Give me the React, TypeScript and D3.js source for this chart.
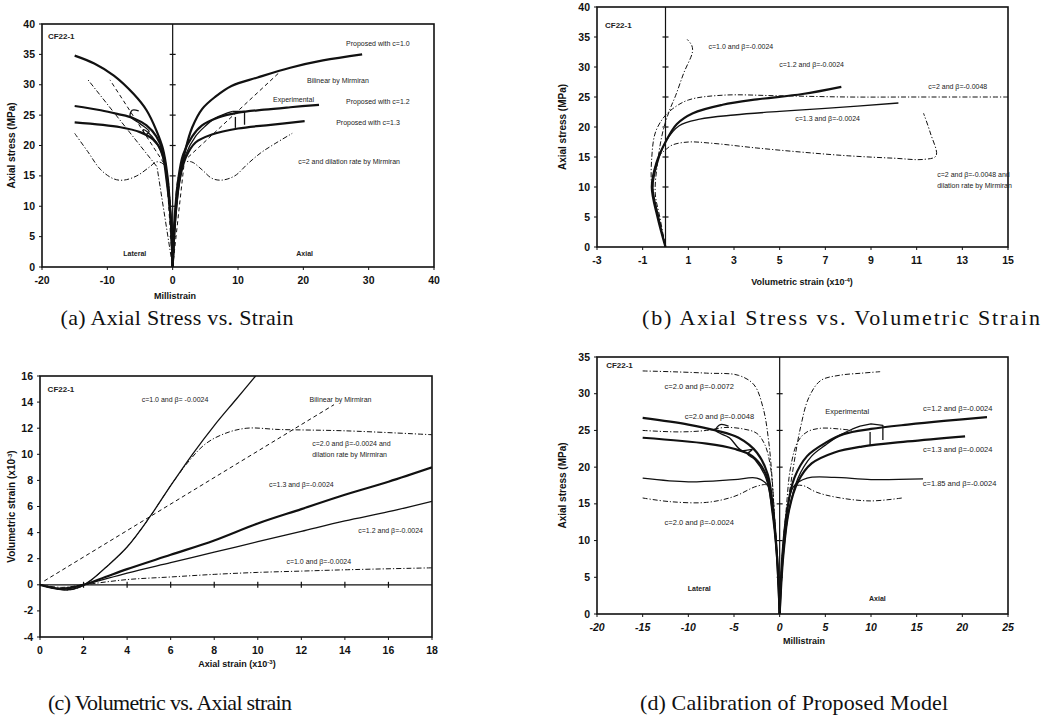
import React from 'react';
import * as d3 from 'd3';

type Pt = [number, number];

// ---------- (a) Axial stress vs. strain ----------
const aC10Lat: Pt[] = [[-15, 34.8], [-12, 33.5], [-9, 31.5], [-6, 28.5], [-4, 25.8], [-2.5, 22.5], [-1.5, 19.5], [-0.8, 15], [-0.3, 8], [0, 0]];
const aC10Ax: Pt[] = [[0, 0], [0.4, 8], [1, 14], [2, 19.5], [3, 23], [4.5, 26], [6.5, 28], [9, 29.8], [13, 31.2], [18, 32.8], [23, 34], [29, 35]];
const aC12Lat: Pt[] = [[-15, 26.5], [-11, 25.8], [-8.5, 25.2], [-6, 24.5], [-4, 23.3], [-2.5, 21.5], [-1.5, 19], [-0.8, 14], [-0.3, 8], [0, 0]];
const aC12Ax: Pt[] = [[0, 0], [0.3, 8], [0.8, 14], [1.6, 18.5], [3, 21.5], [4.5, 23.3], [7, 24.6], [10, 25.4], [14, 25.9], [18, 26.3], [22.4, 26.7]];
const aC13Lat: Pt[] = [[-15, 23.8], [-8, 23], [-5, 22.2], [-3, 21], [-1.7, 19], [-0.9, 14], [-0.3, 8], [0, 0]];
const aC13Ax: Pt[] = [[0, 0], [0.4, 8], [1, 14], [2, 18], [3.5, 20.5], [6, 21.8], [10, 22.8], [15, 23.4], [20.2, 24]];
const aExpLat: Pt[] = [[0, 0], [-0.3, 8], [-0.8, 14], [-1.5, 18], [-2.5, 20.5], [-3.8, 22.2], [-4.5, 22.6], [-4.2, 21.8], [-3.6, 22.3], [-5, 23.6], [-6.5, 24.8], [-6.2, 25.8], [-5.2, 25.7]];
const aExpAx: Pt[] = [[0, 0], [0.4, 8], [1, 14], [2, 18.5], [3.5, 21.5], [5, 23.2], [6.5, 24.5], [8, 25.2], [9.2, 25.6]];
const aExpBox: Pt[] = [[9.2, 25.6], [11, 25.6], [11, 23.4]];
const aExpBar: Pt[] = [[9.6, 24.7], [9.6, 22.9]];
const aBiLat: Pt[] = [[0, 0], [-1, 16.5], [-9.6, 30.8]];
const aBiLat2: Pt[] = [[0, 0], [-2.4, 16.5], [-13.1, 31]];
const aBiAx: Pt[] = [[0, 0], [1.8, 17.5], [16.3, 32]];
const aC2Lat: Pt[] = [[-15, 22], [-13, 19], [-11, 16], [-9, 14.5], [-7.5, 14.3], [-5.5, 15], [-3.5, 16.5], [-2.5, 17.3], [-1.5, 17], [-0.8, 15], [-0.3, 8], [0, 0]];
const aC2Ax: Pt[] = [[0, 0], [0.3, 8], [0.9, 15], [1.8, 17.2], [2.9, 17.3], [4.5, 16], [6, 14.6], [7.5, 14.3], [9.5, 15], [11.5, 17], [13.5, 18.8], [15.5, 20.2], [18.3, 22]];

// ---------- (b) Axial stress vs. volumetric strain ----------
const bC10: Pt[] = [[0, 0], [-0.25, 5], [-0.45, 9], [-0.35, 14], [-0.1, 19.5], [0.2, 23], [0.45, 25.3], [0.8, 29], [1.18, 32.5], [1.15, 33.6], [0.95, 34.6]];
const bC12: Pt[] = [[0, 0], [-0.35, 5], [-0.6, 10], [-0.4, 14], [0, 17.5], [0.5, 20.5], [1.2, 22.3], [2.5, 23.7], [4, 24.6], [6, 25.5], [7.7, 26.7]];
const bC13: Pt[] = [[0, 0], [-0.3, 5], [-0.55, 10], [-0.35, 14], [0, 17.5], [0.6, 20.2], [1.5, 21.3], [3, 22], [5, 22.6], [7, 23.1], [10.2, 24]];
const bC2: Pt[] = [[0, 0], [-0.3, 5], [-0.6, 10], [-0.6, 15], [-0.45, 19], [-0.1, 21.5], [0.3, 23], [1, 24.5], [2.5, 25.3], [5, 25.2], [8, 25], [11, 25], [15, 25]];
const bC2Dil: Pt[] = [[0, 0], [-0.4, 6], [-0.55, 11], [-0.3, 15], [0, 16.2], [0.3, 17], [1, 17.5], [2, 17.3], [4, 16.5], [6, 15.8], [8, 15.2], [10, 14.8], [11.3, 14.6], [11.85, 15.2], [11.6, 19], [11.3, 22.3]];

// ---------- (c) Volumetric vs. axial strain ----------
const cSteep: Pt[] = [[0, 0], [0.6, -0.25], [1.2, -0.4], [1.8, -0.2], [2.3, 0.3], [3, 1.3], [4, 2.9], [5, 5.1], [6, 7.6], [7, 10], [8, 12.2], [9, 14.2], [9.9, 16]];
const cC2Dil: Pt[] = [[0, 0], [0.6, -0.25], [1.2, -0.4], [1.8, -0.2], [2.3, 0.3], [3, 1.3], [4, 2.9], [5, 5.1], [6, 7.6], [6.8, 9.4], [7.6, 10.8], [8.5, 11.6], [9.5, 12], [11, 11.9], [14, 11.8], [18, 11.5]];
const cBilinear: Pt[] = [[0.2, 0.3], [13.5, 13.8]];
const cC13: Pt[] = [[0, 0], [1, -0.3], [2, 0], [3, 0.6], [4, 1.2], [6, 2.3], [8, 3.4], [10, 4.7], [12, 5.8], [14, 6.9], [16, 7.9], [18, 9]];
const cC12: Pt[] = [[0, 0], [1, -0.3], [2, 0], [4, 0.9], [6, 1.7], [8, 2.5], [10, 3.3], [12, 4.1], [14, 4.9], [16, 5.6], [18, 6.4]];
const cC10: Pt[] = [[0, 0], [1, -0.2], [2, 0], [4, 0.4], [6, 0.6], [8, 0.8], [10, 0.95], [12, 1.05], [14, 1.15], [18, 1.3]];

// ---------- (d) Calibration of proposed model ----------
const dB72Lat: Pt[] = [[-15, 33.1], [-12, 33], [-8, 32.8], [-4.5, 32.5], [-2.8, 31.2], [-1.8, 28], [-1.2, 23.5], [-0.8, 18], [-0.5, 12], [-0.2, 6], [0, 0]];
const dB72Ax: Pt[] = [[0, 0], [0.3, 8], [0.8, 14], [1.5, 20], [2.3, 25.5], [3.2, 29.5], [4.5, 31.8], [6.5, 32.5], [9, 32.8], [11, 33]];
const dB48Lat: Pt[] = [[-15, 25], [-11, 24.8], [-8, 25], [-6, 25.4], [-4, 25.2], [-2.5, 24.6], [-1.6, 23], [-1, 20], [-0.6, 14], [-0.3, 8], [0, 0]];
const dB48Ax: Pt[] = [[0, 0], [0.3, 8], [0.7, 14], [1.2, 20], [2, 23.5], [3, 24.8], [4.5, 25.3], [6.5, 25.2], [8, 25]];
const dC12Lat: Pt[] = [[-15, 26.7], [-10, 25.8], [-7, 25], [-4.5, 24], [-2.5, 22], [-1.3, 19], [-0.7, 14], [-0.3, 8], [0, 0]];
const dC12Ax: Pt[] = [[0, 0], [0.3, 8], [0.8, 14], [1.6, 18.5], [3, 21.5], [5, 23.3], [7, 24.5], [10, 25.2], [14, 25.8], [18, 26.3], [22.7, 26.8]];
const dC13Lat: Pt[] = [[-15, 24], [-8, 23.2], [-5, 22.5], [-3, 21.5], [-1.5, 19], [-0.8, 14], [-0.3, 8], [0, 0]];
const dC13Ax: Pt[] = [[0, 0], [0.4, 8], [1, 14], [2, 18], [3.5, 20.5], [6, 22], [9, 22.8], [14, 23.5], [20.3, 24.2]];
const dC185Lat: Pt[] = [[-15, 18.5], [-10, 18], [-5, 18.3], [-2.5, 18.5], [-1.3, 17.5], [-0.7, 14], [-0.3, 8], [0, 0]];
const dC185Ax: Pt[] = [[0, 0], [0.3, 8], [0.8, 14], [1.5, 17.3], [3, 18.5], [6, 18.6], [10, 18.3], [15.7, 18.4]];
const dB24Lat: Pt[] = [[-15, 15.8], [-12, 15.3], [-8, 15.2], [-5, 16], [-2.5, 17.4], [-1.3, 17.5], [-0.7, 14], [-0.3, 8], [0, 0]];
const dB24Ax: Pt[] = [[0, 0], [0.3, 8], [0.8, 14], [1.5, 17.3], [2.5, 17.5], [4, 16.6], [6.2, 15.9], [9.9, 15.4], [13.4, 15.8]];
const dExpLat: Pt[] = [[0, 0], [-0.3, 8], [-0.8, 14], [-1.5, 18.5], [-2.7, 21], [-3.5, 21.8], [-3, 22.4], [-4.2, 22.3], [-5.5, 24], [-7, 25], [-6.5, 25.8], [-5.6, 25.6]];
const dExpAx: Pt[] = [[0, 0], [0.4, 8], [1, 14], [2, 18.5], [3.5, 21.5], [5, 23], [6.5, 24.3], [8, 25.2], [8.8, 25.6]];
const dExpBox: Pt[] = [[8.8, 25.6], [10, 25.9], [11.3, 25.7], [11.3, 23.7]];
const dExpBar: Pt[] = [[9.9, 24.8], [9.9, 23]];

// ---------- ticks ----------
const aXTicks = [-20, -10, 0, 10, 20, 30, 40];
const aYTicks = [0, 5, 10, 15, 20, 25, 30, 35, 40];
const bXTicks = [-3, -1, 1, 3, 5, 7, 9, 11, 13, 15];
const bYTicks = [0, 5, 10, 15, 20, 25, 30, 35, 40];
const cXTicks = [0, 2, 4, 6, 8, 10, 12, 14, 16, 18];
const cYTicks = [-4, -2, 0, 2, 4, 6, 8, 10, 12, 14, 16];
const dXTicks = [-20, -15, -10, -5, 0, 5, 10, 15, 20, 25];
const dYTicks = [0, 5, 10, 15, 20, 25, 30, 35];

type Style = 'thick' | 'thin' | 'dash' | 'dashdot';
type Series = { pts: Pt[]; style: Style; linear?: boolean };
type Note = { text: string; x: number; y: number; anchor?: string; bold?: boolean; size?: number };

const styleMap: Record<Style, { w: number; dash?: string }> = {
  thick: { w: 2.2 },
  thin: { w: 1.3 },
  dash: { w: 1, dash: '4,3' },
  dashdot: { w: 1, dash: '5,2,1.2,2' },
};

const SANS = 'Liberation Sans, Arial, sans-serif';
const SERIF = 'Liberation Serif, Times New Roman, serif';

type PanelProps = {
  id: string;
  box: [number, number, number, number]; // left, top, right, bottom
  xDomain: [number, number];
  yDomain: [number, number];
  xTicks: number[];
  yTicks: number[];
  xItalic?: boolean;
  zero: 'v' | 'h';
  series: Series[];
  notes: Note[];
  xTitle: React.ReactNode;
  yTitle: React.ReactNode;
  xTitleX: number;
  xTitleY: number;
  yTitleX: number;
  caption: string;
  captionX: number;
  captionY: number;
  captionW: number;
};

const Panel = (p: PanelProps) => {
  const [l, t, r, b] = p.box;
  const x = d3.scaleLinear().domain(p.xDomain).range([l, r]);
  const y = d3.scaleLinear().domain(p.yDomain).range([b, t]);
  const smooth = d3.line<Pt>().x(d => x(d[0])).y(d => y(d[1])).curve(d3.curveCatmullRom.alpha(0.5));
  const straight = d3.line<Pt>().x(d => x(d[0])).y(d => y(d[1]));

  return (
    <g>
      <defs>
        <clipPath id={p.id}>
          <rect x={l} y={t} width={r - l} height={b - t} />
        </clipPath>
      </defs>
      {/* zero axis with cross ticks */}
      {p.zero === 'v' ? (
        <g stroke="#111" strokeWidth={1.2}>
          <line x1={x(0)} x2={x(0)} y1={t} y2={b} />
          {p.yTicks.filter(v => v > p.yDomain[0] && v < p.yDomain[1]).map(v => (
            <line key={v} x1={x(0) - 3} x2={x(0) + 3} y1={y(v)} y2={y(v)} />
          ))}
        </g>
      ) : (
        <g stroke="#111" strokeWidth={1.2}>
          <line x1={l} x2={r} y1={y(0)} y2={y(0)} />
          {p.xTicks.filter(v => v > p.xDomain[0] && v < p.xDomain[1]).map(v => (
            <line key={v} x1={x(v)} x2={x(v)} y1={y(0) - 3} y2={y(0) + 3} />
          ))}
        </g>
      )}
      <g clipPath={`url(#${p.id})`} fill="none" stroke="#111" strokeLinejoin="round">
        {p.series.map((s, i) => (
          <path key={i} d={(s.linear ? straight : smooth)(s.pts) || ''}
            strokeWidth={styleMap[s.style].w} strokeDasharray={styleMap[s.style].dash} />
        ))}
      </g>
      <rect x={l} y={t} width={r - l} height={b - t} fill="none" stroke="#111" strokeWidth={1.6} />
      {/* tick labels */}
      <g fontFamily={SANS} fontWeight="bold" fontSize={10.5} fill="#111">
        {p.xTicks.map(v => (
          <g key={v}>
            <line x1={x(v)} x2={x(v)} y1={b} y2={b + 3} stroke="#111" />
            <text x={x(v)} y={b + 17} textAnchor="middle" fontStyle={p.xItalic ? 'italic' : 'normal'}>{v}</text>
          </g>
        ))}
        {p.yTicks.map(v => (
          <g key={v}>
            <line x1={l - 3} x2={l} y1={y(v)} y2={y(v)} stroke="#111" />
            <text x={l - 7} y={y(v) + 3.5} textAnchor="end">{v}</text>
          </g>
        ))}
      </g>
      <text x={p.xTitleX} y={p.xTitleY} textAnchor="middle" fontFamily={SANS} fontWeight="bold" fontSize={9} fill="#111">{p.xTitle}</text>
      <text transform={`translate(${p.yTitleX},${(t + b) / 2}) rotate(-90)`} textAnchor="middle" fontFamily={SANS} fontWeight="bold" fontSize={10} fill="#111">{p.yTitle}</text>
      <g fontFamily={SANS} fill="#222">
        {p.notes.map((n, i) => (
          <text key={i} x={x(n.x)} y={y(n.y)} textAnchor={n.anchor || 'middle'} fontSize={n.size || 7} fontWeight={n.bold ? 'bold' : 'normal'}>{n.text}</text>
        ))}
      </g>
      <text x={p.captionX} y={p.captionY} textAnchor="middle" fontFamily={SERIF} fontSize={22}
        textLength={p.captionW} lengthAdjust="spacing" fill="#111">{p.caption}</text>
    </g>
  );
};

const App = () => {
  const sup = (s: string) => <tspan baselineShift="super" fontSize={6}>{s}</tspan>;
  return (
    <div style={{ position: 'absolute', left: 0, top: 0 }}>
      <svg width={1044} height={722} style={{ display: 'block', background: '#fff' }}>
        <Panel id="pa" box={[42, 24, 434, 267]} xDomain={[-20, 40]} yDomain={[0, 40]}
          xTicks={aXTicks} yTicks={aYTicks} zero="v"
          series={[
            { pts: aBiLat, style: 'dash', linear: true },
            { pts: aBiLat2, style: 'dashdot', linear: true },
            { pts: aBiAx, style: 'dash', linear: true },
            { pts: aC2Lat, style: 'dashdot' },
            { pts: aC2Ax, style: 'dashdot' },
            { pts: aC10Lat, style: 'thick' },
            { pts: aC10Ax, style: 'thick' },
            { pts: aC12Lat, style: 'thick' },
            { pts: aC12Ax, style: 'thick' },
            { pts: aC13Lat, style: 'thick' },
            { pts: aC13Ax, style: 'thick' },
            { pts: aExpLat, style: 'thin' },
            { pts: aExpAx, style: 'thin' },
            { pts: aExpBox, style: 'thin', linear: true },
            { pts: aExpBar, style: 'thin', linear: true },
          ]}
          notes={[
            { text: 'CF22-1', x: -19.1, y: 37.6, anchor: 'start', size: 8, bold: true },
            { text: 'Proposed with c=1.0', x: 31.4, y: 36.3 },
            { text: 'Bilinear by Mirmiran', x: 25.3, y: 30.3 },
            { text: 'Experimental', x: 18.5, y: 27.1 },
            { text: 'Proposed with c=1.2', x: 31.4, y: 26.8 },
            { text: 'Proposed with c=1.3', x: 29.9, y: 23.3 },
            { text: 'c=2 and dilation rate by Mirmiran', x: 27, y: 16.9 },
            { text: 'Lateral', x: -5.8, y: 1.8, bold: true },
            { text: 'Axial', x: 20.2, y: 1.8, bold: true },
          ]}
          xTitle="Millistrain" yTitle="Axial stress (MPa)" xTitleX={175} xTitleY={299} yTitleX={15}
          caption="(a) Axial Stress vs. Strain" captionX={177} captionY={325} captionW={233} />

        <Panel id="pb" box={[597, 7, 1008, 247]} xDomain={[-3, 15]} yDomain={[0, 40]}
          xTicks={bXTicks} yTicks={bYTicks} zero="v"
          series={[
            { pts: bC10, style: 'dashdot' },
            { pts: bC2, style: 'dashdot' },
            { pts: bC2Dil, style: 'dashdot' },
            { pts: bC13, style: 'thin' },
            { pts: bC12, style: 'thick' },
          ]}
          notes={[
            { text: 'CF22-1', x: -2.65, y: 36.5, anchor: 'start', size: 8, bold: true },
            { text: 'c=1.0 and β=-0.0024', x: 3.3, y: 33 },
            { text: 'c=1.2 and β=-0.0024', x: 6.4, y: 30 },
            { text: 'c=2 and β=-0.0048', x: 12.8, y: 26.3 },
            { text: 'c=1.3 and β=-0.0024', x: 7.1, y: 21 },
            { text: 'c=2 and β=-0.0048 and', x: 11.9, y: 11.6, anchor: 'start' },
            { text: 'dilation rate by Mirmiran', x: 11.9, y: 9.9, anchor: 'start' },
          ]}
          xTitle={<>Volumetric strain (x10{sup('-4')})</>} yTitle="Axial stress (MPa)" xTitleX={802} xTitleY={285} yTitleX={566}
          caption="(b) Axial Stress vs. Volumetric Strain" captionX={841} captionY={325} captionW={398} />

        <Panel id="pc" box={[40, 376, 432, 637]} xDomain={[0, 18]} yDomain={[-4, 16]}
          xTicks={cXTicks} yTicks={cYTicks} zero="h"
          series={[
            { pts: cBilinear, style: 'dash', linear: true },
            { pts: cC2Dil, style: 'dashdot' },
            { pts: cSteep, style: 'thin' },
            { pts: cC10, style: 'dashdot' },
            { pts: cC12, style: 'thin' },
            { pts: cC13, style: 'thick' },
          ]}
          notes={[
            { text: 'CF22-1', x: 0.35, y: 14.8, anchor: 'start', size: 8, bold: true },
            { text: 'c=1.0 and β= -0.0024', x: 6.2, y: 14 },
            { text: 'Bilinear by Mirmiran', x: 13.8, y: 14 },
            { text: 'c=2.0 and β=-0.0024 and', x: 12.5, y: 10.6, anchor: 'start' },
            { text: 'dilation rate by Mirmiran', x: 12.5, y: 9.8, anchor: 'start' },
            { text: 'c=1.3 and β=-0.0024', x: 12, y: 7.5 },
            { text: 'c=1.2 and β=-0.0024', x: 16.1, y: 4 },
            { text: 'c=1.0 and β=-0.0024', x: 12.8, y: 1.6 },
          ]}
          xTitle={<>Axial strain (x10{sup('-3')})</>} yTitle={<>Volumetric strain (x10{sup('-3')})</>} xTitleX={237} xTitleY={667} yTitleX={15}
          caption="(c) Volumetric vs. Axial strain" captionX={170} captionY={710} captionW={244} />

        <Panel id="pd" box={[597, 357, 1008, 614]} xDomain={[-20, 25]} yDomain={[0, 35]}
          xTicks={dXTicks} yTicks={dYTicks} zero="v" xItalic
          series={[
            { pts: dB72Lat, style: 'dashdot' },
            { pts: dB72Ax, style: 'dashdot' },
            { pts: dB48Lat, style: 'dashdot' },
            { pts: dB48Ax, style: 'dashdot' },
            { pts: dB24Lat, style: 'dashdot' },
            { pts: dB24Ax, style: 'dashdot' },
            { pts: dC185Lat, style: 'thin' },
            { pts: dC185Ax, style: 'thin' },
            { pts: dC12Lat, style: 'thick' },
            { pts: dC12Ax, style: 'thick' },
            { pts: dC13Lat, style: 'thick' },
            { pts: dC13Ax, style: 'thick' },
            { pts: dExpLat, style: 'thin' },
            { pts: dExpAx, style: 'thin' },
            { pts: dExpBox, style: 'thin', linear: true },
            { pts: dExpBar, style: 'thin', linear: true },
          ]}
          notes={[
            { text: 'CF22-1', x: -19, y: 33.5, anchor: 'start', size: 8, bold: true },
            { text: 'c=2.0 and β=-0.0072', x: -8.8, y: 30.6, size: 7.5 },
            { text: 'c=2.0 and β=-0.0048', x: -6.6, y: 26.5, size: 7.5 },
            { text: 'Experimental', x: 7.4, y: 27.2, size: 7.5 },
            { text: 'c=1.2 and β=-0.0024', x: 19.5, y: 27.7, size: 7.5 },
            { text: 'c=1.3 and β=-0.0024', x: 19.5, y: 22, size: 7.5 },
            { text: 'c=1.85 and β=-0.0024', x: 19.7, y: 17.4, size: 7.5 },
            { text: 'c=2.0 and β=-0.0024', x: -8.8, y: 12.1, size: 7.5 },
            { text: 'Lateral', x: -8.8, y: 3.1, bold: true },
            { text: 'Axial', x: 10.7, y: 1.8, bold: true },
          ]}
          xTitle="Millistrain" yTitle="Axial stress (MPa)" xTitleX={804} xTitleY={644} yTitleX={566}
          caption="(d) Calibration of Proposed Model" captionX={794} captionY={710} captionW={308} />
      </svg>
    </div>
  );
};

export default App;
